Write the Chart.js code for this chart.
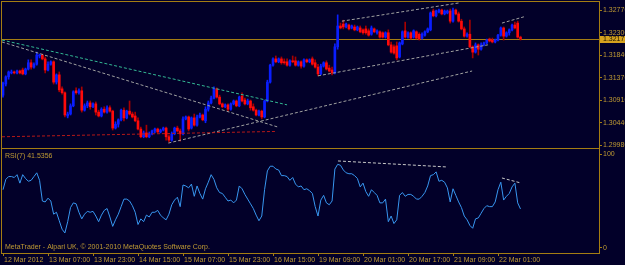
<!DOCTYPE html>
<html><head><meta charset="utf-8">
<script src="https://cdn.jsdelivr.net/npm/chart.js@4/dist/chart.umd.min.js"></script>
<style>
html,body{margin:0;padding:0;background:#020029;overflow:hidden;}
#wrap{position:relative;width:625px;height:265px;overflow:hidden;background:#020029;}
canvas{position:absolute;left:0;}
#c1{top:0;} #c2{top:148px;}
</style></head><body>
<div id="wrap"><canvas id="c1" width="625" height="149"></canvas><canvas id="c2" width="625" height="117"></canvas></div>
<script>
// ---------- DATA ----------
const timeLabels = ['12 Mar 2012','13 Mar 07:00','13 Mar 23:00','14 Mar 15:00','15 Mar 07:00','15 Mar 23:00','16 Mar 15:00','19 Mar 09:00','20 Mar 01:00','20 Mar 17:00','21 Mar 09:00','22 Mar 01:00'];
const timeTickBars = [0,16,32,48,64,80,96,112,128,144,160,176];
const priceTicks = [1.29980,1.30440,1.30910,1.31370,1.31840,1.32300,1.32770];
const rsiTicks = [0,100];
const bidPrice = 1.32172;
const rsiLast = 41.5356;

const open = [
1.3101,1.3124,1.3139,1.3147,1.3149,1.3147,1.3151,1.3153,1.3145,1.3155,
1.3168,1.3159,1.3165,1.3182,1.3184,1.3176,1.3153,1.3165,1.3170,1.3128,
1.3143,1.3114,1.3106,1.3058,1.3062,1.3079,1.3110,1.3106,1.3110,1.3070,
1.3079,1.3085,1.3077,1.3083,1.3066,1.3058,1.3072,1.3066,1.3075,1.3068,
1.3033,1.3041,1.3050,1.3070,1.3054,1.3068,1.3062,1.3058,1.3048,1.3031,
1.3015,1.3023,1.3015,1.3021,1.3027,1.3031,1.3025,1.3029,1.3033,1.3015,
1.3008,1.3021,1.3033,1.3027,1.3021,1.3052,1.3056,1.3033,1.3054,1.3039,
1.3056,1.3060,1.3048,1.3072,1.3085,1.3095,1.3114,1.3097,1.3083,1.3077,
1.3081,1.3072,1.3083,1.3089,1.3079,1.3099,1.3091,1.3083,1.3089,1.3077,
1.3070,1.3060,1.3068,1.3056,1.3089,1.3128,1.3163,1.3176,1.3170,1.3176,
1.3170,1.3170,1.3163,1.3172,1.3172,1.3163,1.3170,1.3161,1.3174,1.3170,
1.3176,1.3168,1.3159,1.3145,1.3161,1.3168,1.3157,1.3153,1.3147,1.3201,
1.3244,1.3248,1.3242,1.3246,1.3240,1.3242,1.3236,1.3240,1.3236,1.3238,
1.3234,1.3227,1.3238,1.3230,1.3232,1.3230,1.3221,1.3230,1.3205,1.3201,
1.3203,1.3180,1.3207,1.3234,1.3221,1.3230,1.3221,1.3232,1.3227,1.3219,
1.3225,1.3232,1.3236,1.3275,1.3265,1.3273,1.3277,1.3269,1.3271,1.3275,
1.3254,1.3277,1.3269,1.3254,1.3238,1.3223,1.3227,1.3201,1.3190,1.3205,
1.3196,1.3205,1.3209,1.3217,1.3215,1.3211,1.3215,1.3225,1.3240,1.3223,
1.3230,1.3236,1.3246,1.3250,1.3221];
const high = [
1.3128,1.3141,1.3151,1.3153,1.3151,1.3153,1.3153,1.3157,1.3157,1.3174,
1.3174,1.3168,1.3190,1.3186,1.3186,1.3180,1.3170,1.3172,1.3172,1.3145,
1.3149,1.3118,1.3108,1.3066,1.3083,1.3110,1.3116,1.3114,1.3118,1.3083,
1.3089,1.3089,1.3085,1.3087,1.3070,1.3075,1.3077,1.3079,1.3079,1.3070,
1.3046,1.3052,1.3072,1.3075,1.3070,1.3089,1.3066,1.3066,1.3054,1.3035,
1.3027,1.3039,1.3025,1.3029,1.3033,1.3033,1.3031,1.3035,1.3035,1.3019,
1.3025,1.3035,1.3037,1.3031,1.3056,1.3058,1.3058,1.3056,1.3062,1.3060,
1.3064,1.3062,1.3077,1.3089,1.3099,1.3118,1.3116,1.3101,1.3085,1.3083,
1.3083,1.3085,1.3091,1.3091,1.3099,1.3106,1.3095,1.3093,1.3091,1.3083,
1.3072,1.3070,1.3070,1.3091,1.3132,1.3165,1.3178,1.3182,1.3178,1.3180,
1.3176,1.3176,1.3174,1.3182,1.3180,1.3172,1.3172,1.3176,1.3176,1.3176,
1.3180,1.3174,1.3165,1.3165,1.3170,1.3172,1.3163,1.3159,1.3207,1.3267,
1.3250,1.3256,1.3250,1.3248,1.3246,1.3246,1.3244,1.3244,1.3238,1.3244,
1.3238,1.3244,1.3240,1.3236,1.3234,1.3232,1.3232,1.3236,1.3211,1.3205,
1.3211,1.3211,1.3234,1.3252,1.3232,1.3232,1.3236,1.3234,1.3230,1.3230,
1.3234,1.3240,1.3273,1.3279,1.3277,1.3279,1.3279,1.3277,1.3277,1.3279,
1.3281,1.3279,1.3273,1.3258,1.3242,1.3230,1.3256,1.3203,1.3209,1.3207,
1.3209,1.3211,1.3217,1.3219,1.3219,1.3217,1.3227,1.3242,1.3242,1.3232,
1.3238,1.3248,1.3252,1.3254,1.3223];
const low = [
1.3097,1.3120,1.3134,1.3145,1.3145,1.3145,1.3145,1.3143,1.3143,1.3153,
1.3155,1.3157,1.3163,1.3178,1.3174,1.3147,1.3151,1.3163,1.3124,1.3124,
1.3108,1.3103,1.3056,1.3054,1.3060,1.3077,1.3103,1.3103,1.3066,1.3068,
1.3075,1.3072,1.3075,1.3060,1.3056,1.3056,1.3064,1.3064,1.3066,1.3029,
1.3031,1.3035,1.3048,1.3048,1.3052,1.3060,1.3054,1.3046,1.3029,1.3013,
1.3013,1.3013,1.3013,1.3019,1.3023,1.3023,1.3023,1.3027,1.3008,1.3004,
1.3006,1.3019,1.3025,1.3006,1.3019,1.3050,1.3027,1.3031,1.3037,1.3037,
1.3054,1.3048,1.3044,1.3068,1.3083,1.3093,1.3095,1.3081,1.3075,1.3075,
1.3068,1.3070,1.3081,1.3077,1.3077,1.3087,1.3081,1.3081,1.3070,1.3068,
1.3058,1.3058,1.3052,1.3054,1.3087,1.3126,1.3161,1.3168,1.3168,1.3165,
1.3165,1.3161,1.3161,1.3168,1.3161,1.3161,1.3157,1.3159,1.3168,1.3168,
1.3163,1.3157,1.3141,1.3143,1.3159,1.3153,1.3149,1.3143,1.3145,1.3196,
1.3238,1.3238,1.3240,1.3236,1.3238,1.3234,1.3234,1.3230,1.3227,1.3227,
1.3223,1.3225,1.3230,1.3227,1.3219,1.3219,1.3219,1.3203,1.3188,1.3186,
1.3174,1.3178,1.3205,1.3219,1.3219,1.3217,1.3219,1.3217,1.3215,1.3217,
1.3223,1.3230,1.3234,1.3263,1.3263,1.3271,1.3267,1.3267,1.3269,1.3250,
1.3252,1.3267,1.3252,1.3236,1.3221,1.3221,1.3199,1.3178,1.3188,1.3184,
1.3194,1.3203,1.3207,1.3211,1.3209,1.3209,1.3213,1.3223,1.3215,1.3221,
1.3225,1.3234,1.3238,1.3219,1.3215];
const close = [
1.3126,1.3139,1.3149,1.3149,1.3147,1.3151,1.3147,1.3145,1.3155,1.3168,
1.3159,1.3165,1.3184,1.3184,1.3176,1.3153,1.3165,1.3170,1.3128,1.3143,
1.3112,1.3106,1.3060,1.3062,1.3079,1.3108,1.3106,1.3110,1.3070,1.3079,
1.3085,1.3077,1.3083,1.3066,1.3058,1.3072,1.3066,1.3075,1.3068,1.3033,
1.3041,1.3050,1.3070,1.3054,1.3068,1.3062,1.3056,1.3048,1.3031,1.3015,
1.3023,1.3015,1.3021,1.3027,1.3031,1.3025,1.3029,1.3033,1.3015,1.3008,
1.3021,1.3033,1.3027,1.3021,1.3052,1.3056,1.3031,1.3054,1.3039,1.3056,
1.3060,1.3050,1.3072,1.3085,1.3095,1.3114,1.3097,1.3083,1.3077,1.3081,
1.3072,1.3083,1.3089,1.3079,1.3097,1.3089,1.3083,1.3089,1.3075,1.3070,
1.3060,1.3068,1.3056,1.3089,1.3128,1.3163,1.3176,1.3170,1.3176,1.3168,
1.3168,1.3163,1.3172,1.3170,1.3163,1.3170,1.3161,1.3174,1.3170,1.3174,
1.3165,1.3159,1.3145,1.3161,1.3168,1.3155,1.3151,1.3147,1.3201,1.3244,
1.3240,1.3242,1.3248,1.3238,1.3244,1.3236,1.3242,1.3232,1.3230,1.3230,
1.3225,1.3240,1.3232,1.3234,1.3221,1.3221,1.3230,1.3205,1.3190,1.3188,
1.3178,1.3209,1.3232,1.3221,1.3230,1.3219,1.3234,1.3219,1.3217,1.3227,
1.3232,1.3238,1.3271,1.3265,1.3275,1.3277,1.3269,1.3275,1.3275,1.3254,
1.3277,1.3269,1.3254,1.3238,1.3223,1.3227,1.3201,1.3190,1.3205,1.3196,
1.3205,1.3209,1.3215,1.3213,1.3211,1.3215,1.3225,1.3240,1.3223,1.3230,
1.3236,1.3246,1.3240,1.3221,1.32172];
const rsi = [
62,73,76,76,75,78,69,78,74,71,
72,76,80,72,50,49,53,50,36,38,
29,20,16,28,43,48,47,38,31,36,
39,38,39,34,28,35,40,42,33,23,
30,36,44,52,52,50,45,38,25,31,
28,35,33,38,38,40,35,32,30,36,
46,51,54,44,67,66,64,68,55,66,
58,52,63,70,78,73,64,59,58,54,
50,51,48,51,66,63,57,52,47,42,
35,29,34,62,82,87,87,84,83,77,
77,76,72,75,68,65,66,62,63,61,
58,44,34,51,56,48,46,50,84,89,
88,83,80,79,79,77,74,65,69,60,
55,62,59,56,48,48,52,28,34,26,
30,56,59,55,57,57,55,52,52,55,
59,66,77,78,81,71,72,70,64,49,
63,56,49,43,34,30,24,21,31,32,
37,42,45,44,44,49,62,70,51,55,
58,65,69,48,41.5356];

// trend lines: [barIndex, value] endpoints
const trendTeal     = [[-0.36,1.3215],[101,1.3081]];
const trendGrayDown = [[-0.36,1.3211],[97.8,1.3035]];
const trendRed      = [[-0.36,1.3015],[96.7,1.3026]];
const trendUpLow    = [[58.8,1.3002],[166.8,1.3151]];
const trendUpMid    = [[112,1.3141],[172.4,1.3205]];
const trendUpTop    = [[120.5,1.3254],[162.5,1.3292]];
const trendUpRight  = [[177.4,1.3250],[185.2,1.3263]];
const rsiTrend1     = [[119.1,92.6],[157.9,86.2]];
const rsiTrend2     = [[177.4,74.5],[184.2,69.1]];

// ---------- STYLE ----------
const FRAME = '#a47d12';
const TEXT = '#c09a34';
const BOX = '#d6a21e';
const UP = '#0a1eff', DOWN = '#ff0a0a', UPW = '#0a1eff', DOWNW = '#a80000';
const FONT = 'Liberation Sans';
const X_MIN = -0.356, X_MAX = -0.356 + 597/2.8125;

const idx = close.map((_,i)=>i);
const wickData = idx.map(i=>({x:i, y:[low[i], high[i]]}));
const bodyData = idx.map(i=>({x:i, y:[open[i], close[i]]}));
const isUp = i => close[i] >= open[i];
const pts = a => a.map(p=>({x:p[0], y:p[1]}));
function tl(arr, color){
  return {type:'line', data:pts(arr), borderColor:color, borderWidth:1, borderDash:[3,2], pointRadius:0, order:1, fill:false, tension:0};
}
function noPad(s){ s.paddingTop=0; s.paddingBottom=0; s.paddingLeft=0; s.paddingRight=0; }

const mainDecor = {
  id:'mainDecor',
  beforeDatasetsDraw(chart){
    const {ctx, chartArea:a, scales:{y}} = chart;
    const by = Math.round(y.getPixelForValue(bidPrice));
    ctx.save(); ctx.fillStyle = FRAME;
    ctx.fillRect(a.left, by, a.right - a.left, 1);
    ctx.restore();
  },
  afterDraw(chart){
    const {ctx, chartArea:a, scales:{y}} = chart;
    ctx.save();
    ctx.fillStyle = FRAME;
    ctx.fillRect(a.left-1, a.top-1, a.right-a.left+2, 1);
    ctx.fillRect(a.left-1, a.bottom, a.right-a.left+2, 1);
    ctx.fillRect(a.left-1, a.top-1, 1, a.bottom-a.top+2);
    ctx.fillRect(a.right, a.top-1, 1, a.bottom-a.top+2);
    const by = Math.round(y.getPixelForValue(bidPrice));
    ctx.fillStyle = BOX;
    ctx.fillRect(a.right+1, by-3, 30, 7);
    ctx.fillStyle = '#1a1200';
    ctx.font = '7px "' + FONT + '"';
    ctx.textBaseline = 'middle';
    ctx.textAlign = 'left';
    ctx.fillText(bidPrice.toFixed(5), a.right+4, by+0.5);
    ctx.restore();
  }
};

new Chart(document.getElementById('c1'), {
  type:'bar',
  data:{datasets:[
    {type:'bar', data:wickData, backgroundColor:c=>isUp(c.dataIndex)?UPW:DOWNW, barThickness:1, grouped:false, order:3, borderWidth:0},
    {type:'bar', data:bodyData, backgroundColor:c=>isUp(c.dataIndex)?UP:DOWN, barThickness:2, grouped:false, order:2, borderWidth:0, minBarLength:1},
    tl(trendTeal,'#34b894'),
    tl(trendGrayDown,'#a0a0a0'),
    tl(trendRed,'#b81818'),
    tl(trendUpLow,'#a0a0a0'),
    tl(trendUpMid,'#a0a0a0'),
    tl(trendUpTop,'#a0a0a0'),
    tl(trendUpRight,'#a0a0a0')
  ]},
  options:{
    responsive:false, animation:false, devicePixelRatio:1,
    layout:{padding:{left:2, top:2, right:0, bottom:1}},
    plugins:{legend:{display:false}, tooltip:{enabled:false}, title:{display:false}},
    scales:{
      x:{type:'linear', min:X_MIN, max:X_MAX, display:false, offset:false, bounds:'data'},
      y:{type:'linear', position:'right', min:1.29918, max:1.32936, bounds:'data',
         afterBuildTicks:s=>{ s.ticks = priceTicks.map(v=>({value:v})); },
         afterFit:s=>{ s.width = 26; noPad(s); },
         ticks:{callback:v=>Number(v).toFixed(5), color:TEXT, font:{family:FONT, size:7}, padding:1, autoSkip:false},
         grid:{drawOnChartArea:false, color:FRAME, tickLength:3, tickWidth:1},
         border:{display:false}}
    }
  },
  plugins:[mainDecor]
});

const rsiDecor = {
  id:'rsiDecor',
  afterDraw(chart){
    const {ctx, chartArea:a} = chart;
    ctx.save();
    ctx.fillStyle = FRAME;
    ctx.fillRect(a.left-1, a.top-1, a.right-a.left+2, 1);
    ctx.fillRect(a.left-1, a.bottom, a.right-a.left+2, 1);
    ctx.fillRect(a.left-1, a.top-1, 1, a.bottom-a.top+2);
    ctx.fillRect(a.right, a.top-1, 1, a.bottom-a.top+2);
    ctx.fillStyle = TEXT;
    ctx.font = '7px "' + FONT + '"';
    ctx.textBaseline = 'middle';
    ctx.textAlign = 'left';
    ctx.fillText('RSI(7) ' + rsiLast.toFixed(4), a.left+3, a.top+7);
    ctx.fillText('MetaTrader - Alpari UK, \u00A9 2001-2010 MetaQuotes Software Corp.', a.left+3, a.bottom-6);
    ctx.restore();
  }
};

new Chart(document.getElementById('c2'), {
  type:'line',
  data:{datasets:[
    {type:'line', data:idx.map(i=>({x:i, y:rsi[i]})), borderColor:'#3896f0', borderWidth:1, pointRadius:0, tension:0, order:2, fill:false},
    tl(rsiTrend1,'#c8c8c8'),
    tl(rsiTrend2,'#c8c8c8')
  ]},
  options:{
    responsive:false, animation:false, devicePixelRatio:1,
    layout:{padding:{left:2, top:1, right:0, bottom:0}},
    plugins:{legend:{display:false}, tooltip:{enabled:false}},
    scales:{
      x:{type:'linear', min:X_MIN, max:X_MAX, offset:false, bounds:'data', position:'bottom',
         afterBuildTicks:s=>{ s.ticks = timeTickBars.map(v=>({value:v})); },
         afterFit:s=>{ s.height = 12; noPad(s); },
         ticks:{callback:(v,i)=>timeLabels[i], color:TEXT, font:{family:FONT, size:7}, padding:0, autoSkip:false, maxRotation:0, minRotation:0, align:'start', labelOffset:1},
         grid:{drawOnChartArea:false, color:FRAME, tickLength:3},
         border:{display:false}},
      y:{type:'linear', position:'right', min:-5.32, max:105.32, bounds:'data',
         afterBuildTicks:s=>{ s.ticks = rsiTicks.map(v=>({value:v})); },
         afterFit:s=>{ s.width = 26; noPad(s); },
         ticks:{callback:v=>String(v), color:TEXT, font:{family:FONT, size:7}, padding:1, autoSkip:false},
         grid:{drawOnChartArea:false, color:FRAME, tickLength:3},
         border:{display:false}}
    }
  },
  plugins:[rsiDecor]
});
</script>
</body></html>
